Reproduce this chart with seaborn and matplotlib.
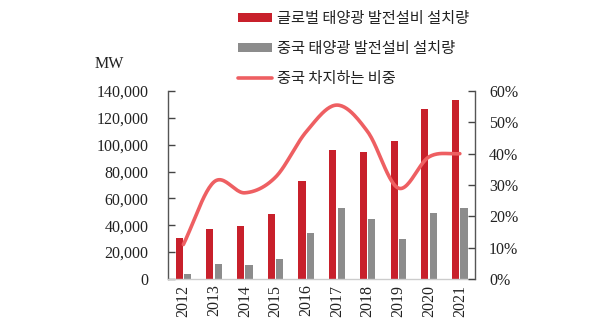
import numpy as np
import pandas as pd
import matplotlib
matplotlib.use("Agg")
import matplotlib.pyplot as plt
import seaborn as sns
from matplotlib.patches import Patch
from matplotlib.lines import Line2D
from matplotlib.ticker import FuncFormatter

years = ["2012", "2013", "2014", "2015", "2016", "2017", "2018", "2019", "2020", "2021"]
global_mw = [30500, 37000, 39500, 48400, 73000, 96000, 94500, 103000, 126500, 133000]
china_mw = [3500, 11000, 10500, 15000, 34500, 53000, 44500, 30000, 49000, 53000]
china_share = [11.0, 31.0, 27.5, 32.5, 47.0, 55.5, 47.0, 29.0, 39.0, 40.0]

lbl_global = "글로벌 태양광 발전설비 설치량"
lbl_china = "중국 태양광 발전설비 설치량"
lbl_share = "중국 차지하는 비중"

RED = "#C8202B"
GRAY = "#8C8C8C"
LINE = "#EE5F62"

sns.set_theme(style="white")
plt.rcParams["font.family"] = ["Liberation Serif", "DejaVu Sans"]

fig = plt.figure(figsize=(6.0, 3.28), dpi=100)
ax = fig.add_axes([0.28, 0.1494, 0.512, 0.5732])

df = pd.DataFrame({
    "year": years * 2,
    "val": global_mw + china_mw,
    "series": [lbl_global] * len(years) + [lbl_china] * len(years),
})
sns.barplot(data=df, x="year", y="val", hue="series", order=years,
            hue_order=[lbl_global, lbl_china], palette=[RED, GRAY],
            width=0.55, gap=0.15, dodge=True, legend=False, ax=ax,
            saturation=1, edgecolor="none", linewidth=0, errorbar=None)

ax.set_xlim(-0.5, 9.5)
ax.set_ylim(0, 140000)
ax.set_yticks(np.arange(0, 140001, 20000))
ax.yaxis.set_major_formatter(FuncFormatter(lambda v, p: f"{int(v):,}"))
ax.set_xlabel("")
ax.set_ylabel("")
ax.tick_params(axis="x", rotation=90, labelsize=11.5, length=0, pad=4, colors="#222222")
ax.tick_params(axis="y", direction="in", left=True, length=5, width=1, labelsize=11.5,
               colors="#444444", labelcolor="#222222", pad=14)
for s in ["top", "right"]:
    ax.spines[s].set_visible(False)
ax.spines["left"].set_color("#555555")
ax.spines["left"].set_linewidth(1.0)
ax.spines["bottom"].set_color("#CCCCCC")
ax.spines["bottom"].set_linewidth(1.0)

# smoothed share line (Catmull-Rom through read points)
ax2 = ax.twinx()
xp = np.arange(len(years), dtype=float)
yp = np.array(china_share, dtype=float)
P = np.concatenate([[2 * yp[0] - yp[1]], yp, [2 * yp[-1] - yp[-2]]])
xs, ys = [], []
for i in range(len(yp) - 1):
    p0, p1, p2, p3 = P[i], P[i + 1], P[i + 2], P[i + 3]
    t = np.linspace(0, 1, 25, endpoint=(i == len(yp) - 2))
    y = 0.5 * ((2 * p1) + (-p0 + p2) * t + (2 * p0 - 5 * p1 + 4 * p2 - p3) * t ** 2
               + (-p0 + 3 * p1 - 3 * p2 + p3) * t ** 3)
    xs.extend(xp[i] + t)
    ys.extend(y)
sns.lineplot(x=xs, y=ys, ax=ax2, color=LINE, linewidth=2.6, sort=False)
ax2.set_ylim(0, 60)
ax2.set_xlim(-0.5, 9.5)
ax2.set_yticks(np.arange(0, 61, 10))
ax2.yaxis.set_major_formatter(FuncFormatter(lambda v, p: f"{int(v)}%"))
ax2.tick_params(axis="y", direction="in", right=True, length=5, width=1, labelsize=11.5,
                colors="#444444", labelcolor="#222222", pad=10)
for s in ["top", "left", "bottom"]:
    ax2.spines[s].set_visible(False)
ax2.spines["right"].set_color("#555555")
ax2.spines["right"].set_linewidth(1.0)
ax2.set_ylabel("")

fig.text(0.158, 0.78, "MW", fontsize=11.5, color="#222222", ha="left", va="bottom")

handles = [Patch(facecolor=RED, edgecolor="none"),
           Patch(facecolor=GRAY, edgecolor="none"),
           Line2D([0], [0], color=LINE, linewidth=2.6)]
leg = fig.legend(handles, [lbl_global, lbl_china, lbl_share],
                 loc="upper left", bbox_to_anchor=(0.382, 0.998), frameon=False,
                 prop={"family": ["Noto Sans CJK KR", "DejaVu Sans"], "size": 11},
                 handlelength=2.2, handleheight=0.6, handletextpad=0.3,
                 labelspacing=0.85, borderaxespad=0.2)
for t in leg.get_texts():
    t.set_color("#222222")

fig.savefig("out.png", dpi=100)
